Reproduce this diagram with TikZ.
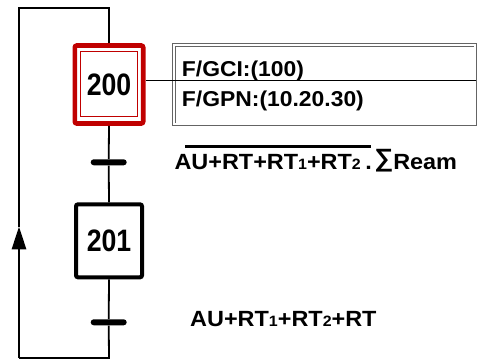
\documentclass[tikz,border=0pt]{standalone}
\usepackage{fontspec}
\setmainfont{Liberation Sans}
\newfontfamily\stepfont[FakeStretch=0.86]{Liberation Sans}
\newfontfamily\labelfont[FakeStretch=1.065]{Liberation Sans}
\usetikzlibrary{arrows.meta}
\definecolor{initred}{RGB}{192,0,0}
\definecolor{actgray}{RGB}{100,100,100}
% small index digits in the conditions
\newcommand\idx[1]{{\fontsize{15}{15}\selectfont #1}}
% summation sign sitting on the base line at capital height
\newcommand\sumsign{\raisebox{3.2pt}{\fontsize{25}{25}\selectfont ∑}}

\begin{document}
\begin{tikzpicture}[x=1pt,y=-1pt,
  flow/.style={line width=1.8pt},
  stepbox/.style={draw, rectangle, rounded corners=2pt, inner sep=0pt,
    font=\stepfont\bfseries\fontsize{31}{31}\selectfont},
  initstep/.style={stepbox, draw=initred, line width=4.6pt,
    minimum width=68.4pt, minimum height=78pt},
  plainstep/.style={stepbox, line width=4pt,
    minimum width=66pt, minimum height=73pt},
  bar/.style={rectangle, fill=black, rounded corners=3pt,
    minimum width=36pt, minimum height=6pt, inner sep=0pt},
  actbox/.style={rectangle, draw=actgray, line width=0.9pt, double=white,
    double distance=1.4pt, minimum width=301.2pt, minimum height=79.2pt,
    inner sep=0pt},
  lbl/.style={inner sep=0pt, anchor=base west,
    font=\labelfont\bfseries\fontsize{22}{22}\selectfont},
  acttext/.style={inner sep=0pt, anchor=base west,
    font=\labelfont\bfseries\fontsize{21.5}{21.5}\selectfont},
]
\useasboundingbox (0,0) rectangle (479,360);

% steps and transitions
\node[initstep] (s200) at (109,84.5) {200};
\node[plainstep] (s201) at (109,240.8) {201};
\node[bar] (t1) at (108.7,162.3) {};
\node[bar] (t2) at (108.7,322.3) {};

% inner frame of the initial step
\draw[initred, line width=1pt]
  ([xshift=8.2pt,yshift=9.5pt]s200.south west) rectangle
  ([xshift=-8.2pt,yshift=-8.6pt]s200.north east);

% action box of step 200
\node[actbox] (act) at (324.5,84.5) {};
\node[acttext] (a1) at (181.7,76.7) {F/GCI:(100)};
\node[acttext] (a2) at (181.7,106) {F/GPN:(10.20.30)};
\draw[line width=1.2pt] ([yshift=4.2pt]s200.east) -- ([yshift=4.2pt]s200.east -| act.east);

% transition conditions
\node[lbl] (c1) at (174.3,169.3) {AU+RT+RT\idx1+RT\idx2};
\node[lbl] (c1b) at (c1.base east) {\hspace{4pt}.\hspace{2.5pt}\sumsign Ream};
\draw[line width=2.2pt] ([xshift=10.7pt,yshift=7.5pt]c1.north west) --
  ([xshift=10pt,yshift=7.5pt]c1.north east);
\node[lbl] (c2) at (190,326.7) {AU+RT\idx1+RT\idx2+RT};

% loop back from the last transition to the initial step
\coordinate (tr) at (109,8);
\coordinate (tl) at (19,8);
\coordinate (bl) at (19,358);
\coordinate (br) at (109,358);
\coordinate (arr) at (19,226.7);

\draw[flow] (s200.north) -- (tr) -- (tl) -- (arr);
\draw[flow, -{Triangle[length=22.6pt,width=14.3pt]}] (bl) -- (arr);
\draw[flow] (s200.south) -- (t1) -- (s201.north);
\draw[flow] (s201.south) -- (t2) -- (br) -- (bl);
\end{tikzpicture}
\end{document}
